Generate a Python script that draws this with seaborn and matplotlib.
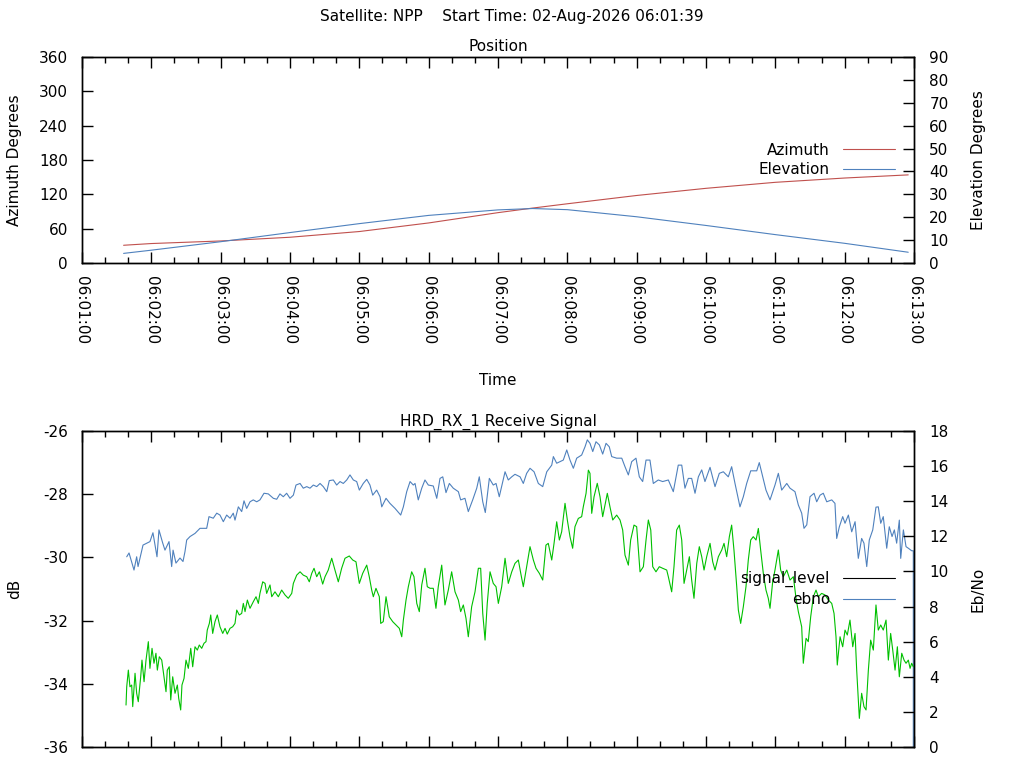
import matplotlib
matplotlib.use("Agg")
import matplotlib.pyplot as plt
import seaborn as sns
from matplotlib.ticker import MultipleLocator, FuncFormatter
from matplotlib.lines import Line2D

sns.set_style("ticks")
plt.rcParams["font.family"] = ["DejaVu Sans"]
plt.rcParams["axes.unicode_minus"] = False
plt.rcParams["text.color"] = "black"
plt.rcParams["axes.labelcolor"] = "black"
plt.rcParams["xtick.labelcolor"] = "black"
plt.rcParams["ytick.labelcolor"] = "black"

# ---- data (time = seconds after 06:01:00) ----
POS_T = [36, 60, 120, 180, 240, 300, 360, 390, 420, 480, 540, 600, 660, 715]
AZIMUTH = [31, 34, 38.5, 45, 55, 70, 88, 96, 103.5, 118, 130.5, 141, 148.5, 154]
ELEVATION = [4.2, 5.6, 9.3, 13.3, 17.2, 20.8, 23.2, 23.8, 23.3, 20.2, 16.4, 12.4, 8.6, 4.7]

SIG_T = [38.7, 40.7, 45.0, 47.3, 48.5, 52.8, 58.8, 61.4, 64.9, 66.6,
         69.8, 71.8, 75.3, 77.6, 78.8, 81.3, 84.8, 87.4, 89.1, 90.6,
         93.5, 97.8, 102.1, 107.9, 109.9, 113.6, 116.6, 119.4, 122.3, 125.2,
         128.1, 130.9, 132.4, 135.3, 138.2, 140.2, 142.5, 145.4, 148.2, 151.2,
         154.0, 157.5, 161.2, 165.6, 168.5, 171.3, 174.2, 177.1, 180.0, 182.9,
         185.2, 188.7, 191.5, 194.5, 197.3, 200.2, 203.1, 206.0, 208.8, 211.8,
         214.0, 217.5, 220.4, 223.3, 226.1, 229.1, 231.9, 234.8, 237.7, 240.0,
         243.4, 246.4, 249.2, 251.6, 255.0, 257.9, 259.4, 263.1, 266.5, 270.9,
         275.8, 278.1, 281.0, 283.9, 286.7, 288.2, 291.0, 294.0, 296.8, 299.7,
         304.0, 307.0, 309.8, 312.2, 315.0, 317.9, 321.3, 325.7, 327.7, 331.4,
         334.3, 338.1, 341.6, 343.8, 346.8, 349.0, 352.5, 355.9, 358.3, 361.1,
         366.1, 368.9, 371.9, 374.7, 379.1, 381.9, 384.8, 387.7, 391.2, 394.9,
         398.7, 402.2, 406.5, 407.9, 410.8, 413.7, 416.5, 419.5, 422.3, 425.2,
         428.1, 432.4, 435.3, 437.3, 439.6, 442.0, 444.8, 447.7, 450.6, 453.5,
         456.3, 458.4, 462.7, 467.1, 469.9, 472.8, 475.7, 479.4, 482.3, 485.2,
         488.1, 491.5, 494.4, 498.7, 502.5, 507.4, 511.7, 516.0, 519.0, 521.8,
         524.7, 527.6, 530.5, 533.4, 536.3, 539.1, 543.5, 547.8, 551.5, 555.0,
         559.3, 562.2, 565.1, 569.4, 572.3, 575.2, 578.7, 583.9, 586.1, 589.1,
         591.9, 595.4, 599.7, 602.6, 605.5, 609.9, 612.7, 617.0, 619.9, 622.8,
         624.8, 627.2, 630.0, 633.5, 635.8, 638.7, 641.5, 644.5, 648.8, 651.6,
         653.1, 655.4, 658.3, 660.3, 663.2, 666.1, 669.0, 671.8, 674.7, 676.7,
         679.1, 681.3, 684.3, 687.1, 689.1, 691.2, 693.4, 696.4, 698.6, 701.0,
         703.0, 705.0, 707.3, 708.5, 710.8, 713.1, 715.1, 718.0, 719.4, 719.4]
SIG_DB = [-29.98, -29.86, -30.40, -29.98, -30.29, -29.61, -29.50, -29.22, -29.98, -29.13,
          -29.54, -29.77, -29.50, -30.29, -29.77, -30.18, -30.02, -30.13, -29.82, -29.45,
          -29.34, -29.24, -29.08, -29.08, -28.71, -28.76, -28.60, -28.66, -28.87, -28.66,
          -28.76, -28.60, -28.82, -28.40, -28.55, -28.21, -28.45, -28.24, -28.18, -28.24,
          -28.18, -27.97, -27.99, -28.13, -28.16, -27.99, -28.08, -27.97, -28.13, -28.03,
          -27.71, -27.66, -27.81, -27.76, -27.81, -27.71, -27.76, -27.66, -27.76, -27.92,
          -27.57, -27.55, -27.71, -27.60, -27.66, -27.55, -27.39, -27.55, -27.60, -27.87,
          -27.66, -27.53, -27.71, -28.03, -27.87, -28.08, -28.40, -28.13, -28.29, -28.45,
          -28.66, -28.40, -27.92, -27.60, -27.71, -27.66, -28.18, -27.81, -27.55, -27.71,
          -27.74, -28.13, -27.50, -27.45, -27.95, -27.66, -27.81, -27.92, -28.18, -28.13,
          -28.55, -28.18, -27.81, -27.45, -28.24, -28.58, -27.50, -27.71, -27.66, -28.08,
          -27.29, -27.55, -27.45, -27.37, -27.45, -27.66, -27.34, -27.18, -27.29, -27.66,
          -27.76, -27.29, -27.08, -26.81, -27.02, -26.97, -26.92, -26.60, -26.92, -27.18,
          -26.86, -26.76, -26.50, -26.28, -26.39, -26.65, -26.34, -26.44, -26.73, -26.39,
          -26.50, -26.81, -26.86, -26.86, -27.13, -27.39, -26.97, -26.86, -27.45, -27.60,
          -26.92, -26.92, -27.66, -27.55, -27.60, -27.55, -27.92, -27.08, -27.08, -27.81,
          -27.50, -27.50, -27.97, -27.45, -27.23, -27.60, -27.15, -27.76, -27.34, -27.29,
          -27.45, -27.13, -27.66, -28.40, -28.08, -27.66, -27.26, -27.26, -27.00, -27.45,
          -27.87, -28.18, -27.71, -27.34, -27.87, -27.66, -27.81, -27.92, -28.34, -28.60,
          -29.08, -28.97, -28.08, -27.97, -28.24, -28.03, -27.97, -28.24, -28.18, -28.29,
          -29.40, -29.03, -28.71, -28.92, -28.66, -29.19, -28.87, -30.03, -29.40, -29.55,
          -30.29, -29.45, -29.13, -28.41, -28.40, -28.92, -28.71, -29.71, -29.03, -29.34,
          -29.13, -29.55, -28.82, -30.03, -29.13, -29.66, -29.71, -29.79, -29.79, -36.0]

EBNO_T = [38.1, 38.7, 40.1, 41.5, 43.0, 43.9, 45.9, 47.3, 48.7, 50.8,
          51.9, 53.7, 55.4, 57.4, 58.8, 60.6, 62.3, 64.0, 65.2, 66.9,
          69.0, 71.0, 72.7, 73.8, 75.5, 76.8, 78.5, 80.5, 82.5, 83.7,
          85.4, 86.5, 88.3, 90.0, 92.0, 94.1, 95.8, 97.8, 99.8, 101.5,
          103.6, 105.6, 107.3, 108.4, 110.2, 111.4, 113.1, 115.1, 117.1, 119.4,
          121.8, 123.8, 125.7, 128.1, 130.4, 132.4, 133.9, 136.1, 138.2, 139.6,
          141.1, 143.1, 145.4, 148.2, 150.6, 152.6, 154.0, 156.4, 158.4, 159.8,
          162.7, 164.2, 167.0, 169.9, 172.8, 175.7, 178.5, 181.5, 182.9, 185.8,
          188.7, 191.5, 194.5, 196.7, 198.8, 200.8, 203.1, 205.4, 208.3, 210.3,
          213.1, 216.1, 218.9, 221.8, 224.7, 227.6, 231.3, 234.3, 237.1, 240.0,
          242.9, 246.4, 248.6, 250.7, 252.1, 254.4, 257.3, 258.5, 260.7, 263.1,
          265.9, 268.9, 271.7, 274.6, 276.7, 278.1, 280.4, 282.4, 285.3, 287.3,
          289.7, 291.9, 294.0, 296.8, 298.8, 301.2, 304.0, 306.3, 308.3, 311.3,
          314.1, 317.0, 319.9, 322.8, 325.7, 327.7, 330.0, 332.3, 334.3, 337.2,
          340.1, 343.0, 345.0, 346.8, 348.8, 350.7, 353.1, 355.9, 358.3, 360.3,
          363.2, 366.1, 368.9, 371.9, 374.7, 377.6, 379.7, 381.9, 384.8, 387.7,
          390.6, 392.9, 395.8, 398.7, 401.5, 403.5, 406.5, 408.5, 410.8, 413.1,
          415.1, 418.0, 420.0, 422.3, 424.6, 426.6, 429.5, 432.4, 433.8, 436.2,
          438.2, 439.6, 441.1, 443.1, 445.9, 448.3, 450.6, 452.6, 454.6, 456.9,
          459.3, 462.7, 465.6, 467.9, 469.9, 472.8, 474.8, 477.7, 480.0, 482.9,
          485.8, 488.1, 490.1, 492.2, 493.9, 496.7, 499.6, 502.5, 506.0, 507.4,
          510.3, 512.3, 514.6, 516.9, 519.0, 521.0, 523.3, 525.6, 527.6, 529.6,
          532.0, 534.2, 536.3, 538.3, 540.6, 543.5, 545.8, 547.8, 550.7, 553.6,
          555.6, 557.9, 560.2, 562.2, 564.2, 566.6, 568.0, 570.0, 572.3, 574.6,
          576.6, 578.7, 580.9, 583.3, 585.3, 587.3, 589.6, 591.9, 593.9, 595.4,
          597.7, 599.7, 602.6, 604.6, 606.9, 609.9, 612.7, 615.6, 617.9, 619.9,
          622.8, 624.2, 626.6, 628.5, 630.6, 632.9, 635.2, 637.2, 640.1, 643.0,
          645.9, 648.8, 650.8, 652.5, 653.6, 656.0, 658.3, 660.3, 662.3, 664.6,
          667.0, 669.0, 670.4, 672.7, 674.7, 676.7, 678.5, 680.5, 682.5, 684.8,
          687.1, 689.1, 691.2, 693.4, 695.8, 697.8, 699.8, 701.6, 703.6, 705.6,
          707.3, 709.4, 711.4, 713.1, 715.1, 716.6, 718.0, 719.4]
EBNO = [2.39, 3.43, 4.38, 3.43, 3.53, 2.30, 4.20, 3.06, 2.58, 4.00,
        4.95, 3.72, 4.95, 6.00, 4.48, 5.62, 4.77, 5.34, 4.38, 5.14,
        4.95, 4.00, 3.15, 4.38, 4.57, 2.68, 4.00, 3.06, 3.53, 2.77,
        2.11, 3.53, 3.91, 4.95, 4.48, 5.62, 4.57, 5.71, 5.52, 5.81,
        5.62, 5.91, 6.00, 6.66, 7.04, 7.52, 6.47, 7.14, 7.52, 6.85,
        6.47, 6.76, 6.43, 6.76, 6.85, 7.04, 7.80, 7.52, 7.61, 8.18,
        7.71, 8.37, 7.90, 8.27, 8.56, 8.18, 8.75, 9.41, 9.32, 8.75,
        9.23, 8.56, 8.84, 8.56, 8.94, 8.66, 8.47, 8.75, 9.32, 9.79,
        9.98, 9.79, 9.70, 9.41, 9.89, 10.18, 9.70, 9.98, 9.28, 9.70,
        10.08, 10.75, 10.08, 9.41, 10.18, 10.75, 10.88, 10.65, 10.55, 9.32,
        9.89, 10.36, 9.70, 8.94, 8.56, 9.04, 8.56, 7.04, 7.14, 8.56,
        7.42, 7.14, 6.95, 6.76, 6.28, 7.23, 8.37, 9.13, 9.98, 9.70,
        8.18, 7.71, 9.23, 10.18, 9.13, 9.04, 9.04, 7.90, 9.13, 10.36,
        8.09, 8.94, 9.98, 8.84, 8.37, 7.71, 8.09, 7.33, 6.28, 7.99,
        8.84, 10.18, 10.18, 7.61, 6.09, 8.18, 9.98, 9.32, 9.13, 8.18,
        9.13, 10.75, 9.32, 9.98, 10.46, 10.65, 9.89, 9.13, 10.27, 11.41,
        10.65, 10.18, 9.89, 9.51, 11.50, 11.60, 10.65, 11.60, 12.83, 11.79,
        12.26, 13.88, 12.93, 11.98, 11.32, 12.55, 13.02, 13.12, 13.68, 14.45,
        15.77, 15.59, 13.31, 14.25, 15.02, 14.25, 13.12, 13.78, 14.45, 13.68,
        12.93, 13.21, 12.93, 12.36, 10.93, 10.36, 11.79, 12.64, 12.55, 9.98,
        10.27, 11.79, 12.93, 12.36, 10.27, 9.98, 10.27, 10.18, 10.08, 9.70,
        8.84, 10.27, 12.36, 12.64, 11.79, 9.32, 10.08, 10.84, 9.51, 8.47,
        10.46, 11.41, 10.84, 10.08, 10.84, 11.60, 10.55, 10.08, 10.84, 11.22,
        11.60, 10.84, 11.98, 12.64, 11.22, 9.13, 7.80, 7.04, 7.99, 9.13,
        10.65, 11.79, 11.98, 11.79, 12.45, 11.22, 9.89, 8.94, 8.47, 7.90,
        9.41, 10.08, 11.22, 10.08, 9.70, 10.08, 9.51, 9.70, 8.47, 7.71,
        6.85, 4.77, 6.19, 6.00, 7.42, 8.56, 8.94, 8.56, 8.75, 8.66,
        8.37, 8.18, 7.61, 6.28, 4.67, 6.28, 5.71, 6.66, 6.38, 7.23,
        5.71, 6.47, 4.38, 1.63, 3.06, 2.30, 2.11, 4.38, 6.09, 5.52,
        8.09, 6.66, 6.95, 6.66, 7.23, 4.95, 6.47, 5.52, 4.38, 5.71,
        4.00, 5.34, 4.95, 4.77, 4.95, 4.48, 4.77, 4.57]

RED = "#c0504d"
BLUE = "#4f81bd"
GREEN = "#00c000"
FS = 11
LW = 0.8


def clock(v, pos):
    s = int(round(v))
    return "06:%02d:%02d" % (1 + s // 60, s % 60)


def style_axes(ax, twin):
    for a in (ax, twin):
        for sp in a.spines.values():
            sp.set_linewidth(1.0)
            sp.set_color("black")
    ax.set_xlim(0, 720)
    ax.xaxis.set_major_locator(MultipleLocator(60))
    ax.xaxis.set_minor_locator(MultipleLocator(20))
    ax.tick_params(axis="x", which="both", direction="in", top=True, bottom=True,
                   color="black", width=1.0)
    ax.tick_params(axis="x", which="major", length=8, labelsize=FS, pad=9)
    ax.tick_params(axis="x", which="minor", length=4)
    ax.tick_params(axis="y", direction="in", length=8, width=1.0, color="black",
                   labelsize=FS, pad=10, left=True, right=False)
    twin.tick_params(axis="y", direction="in", length=8, width=1.0, color="black",
                     labelsize=FS, pad=11, right=True, left=False)


fig = plt.figure(figsize=(10.24, 7.68), dpi=100)
fig.text(0.5, 1 - 17 / 768, "Satellite: NPP    Start Time: 02-Aug-2026 06:01:39",
         ha="center", va="center", fontsize=FS)

# ---- Position panel ----
ax1 = fig.add_axes([82 / 1024, 1 - 263 / 768, 832 / 1024, 206 / 768])
ax1r = ax1.twinx()
sns.lineplot(x=POS_T, y=AZIMUTH, ax=ax1, color=RED, lw=LW, estimator=None, sort=False)
sns.lineplot(x=POS_T, y=ELEVATION, ax=ax1r, color=BLUE, lw=LW, estimator=None, sort=False)
style_axes(ax1, ax1r)
ax1.set_ylim(0, 360)
ax1.yaxis.set_major_locator(MultipleLocator(60))
ax1r.set_ylim(0, 90)
ax1r.yaxis.set_major_locator(MultipleLocator(10))
ax1.xaxis.set_major_formatter(FuncFormatter(clock))
for lbl in ax1.get_xticklabels():
    lbl.set_rotation(270)
ax1.set_xlabel("Time", fontsize=FS, labelpad=21)
ax1.set_ylabel("Azimuth Degrees", fontsize=FS, labelpad=12)
ax1r.set_ylabel("Elevation Degrees", fontsize=FS, labelpad=16)
ax1.set_title("Position", fontsize=FS, pad=4)
h1 = [Line2D([], [], color=RED, lw=LW), Line2D([], [], color=BLUE, lw=LW)]
ax1r.legend(h1, ["Azimuth", "Elevation"], loc="center right", bbox_to_anchor=(0.977, 0.5),
            frameon=False, markerfirst=False, fontsize=FS, handlelength=3.4,
            handletextpad=0.85, labelspacing=0.3, borderpad=0, borderaxespad=0)

# ---- Receive signal panel ----
ax2 = fig.add_axes([82 / 1024, 1 - 747 / 768, 832 / 1024, 316 / 768])
ax2r = ax2.twinx()
sns.lineplot(x=SIG_T, y=SIG_DB, ax=ax2, color=BLUE, lw=LW, estimator=None, sort=False)
sns.lineplot(x=EBNO_T, y=EBNO, ax=ax2r, color=GREEN, lw=LW, estimator=None, sort=False)
style_axes(ax2, ax2r)
ax2.tick_params(axis="x", labelbottom=False)
ax2.set_ylim(-36, -26)
ax2.yaxis.set_major_locator(MultipleLocator(2))
ax2r.set_ylim(0, 18)
ax2r.yaxis.set_major_locator(MultipleLocator(2))
ax2.set_xlabel("")
ax2.set_ylabel("dB", fontsize=FS, labelpad=15)
ax2r.set_ylabel("Eb/No", fontsize=FS, labelpad=16)
ax2.set_title("HRD_RX_1 Receive Signal", fontsize=FS, pad=4)
h2 = [Line2D([], [], color="black", lw=LW), Line2D([], [], color=BLUE, lw=LW)]
ax2r.legend(h2, ["signal_level", "ebno"], loc="center right", bbox_to_anchor=(0.977, 0.5),
            frameon=False, markerfirst=False, fontsize=FS, handlelength=3.4,
            handletextpad=0.85, labelspacing=0.3, borderpad=0, borderaxespad=0)

fig.savefig("out.png", dpi=100, facecolor="white")
